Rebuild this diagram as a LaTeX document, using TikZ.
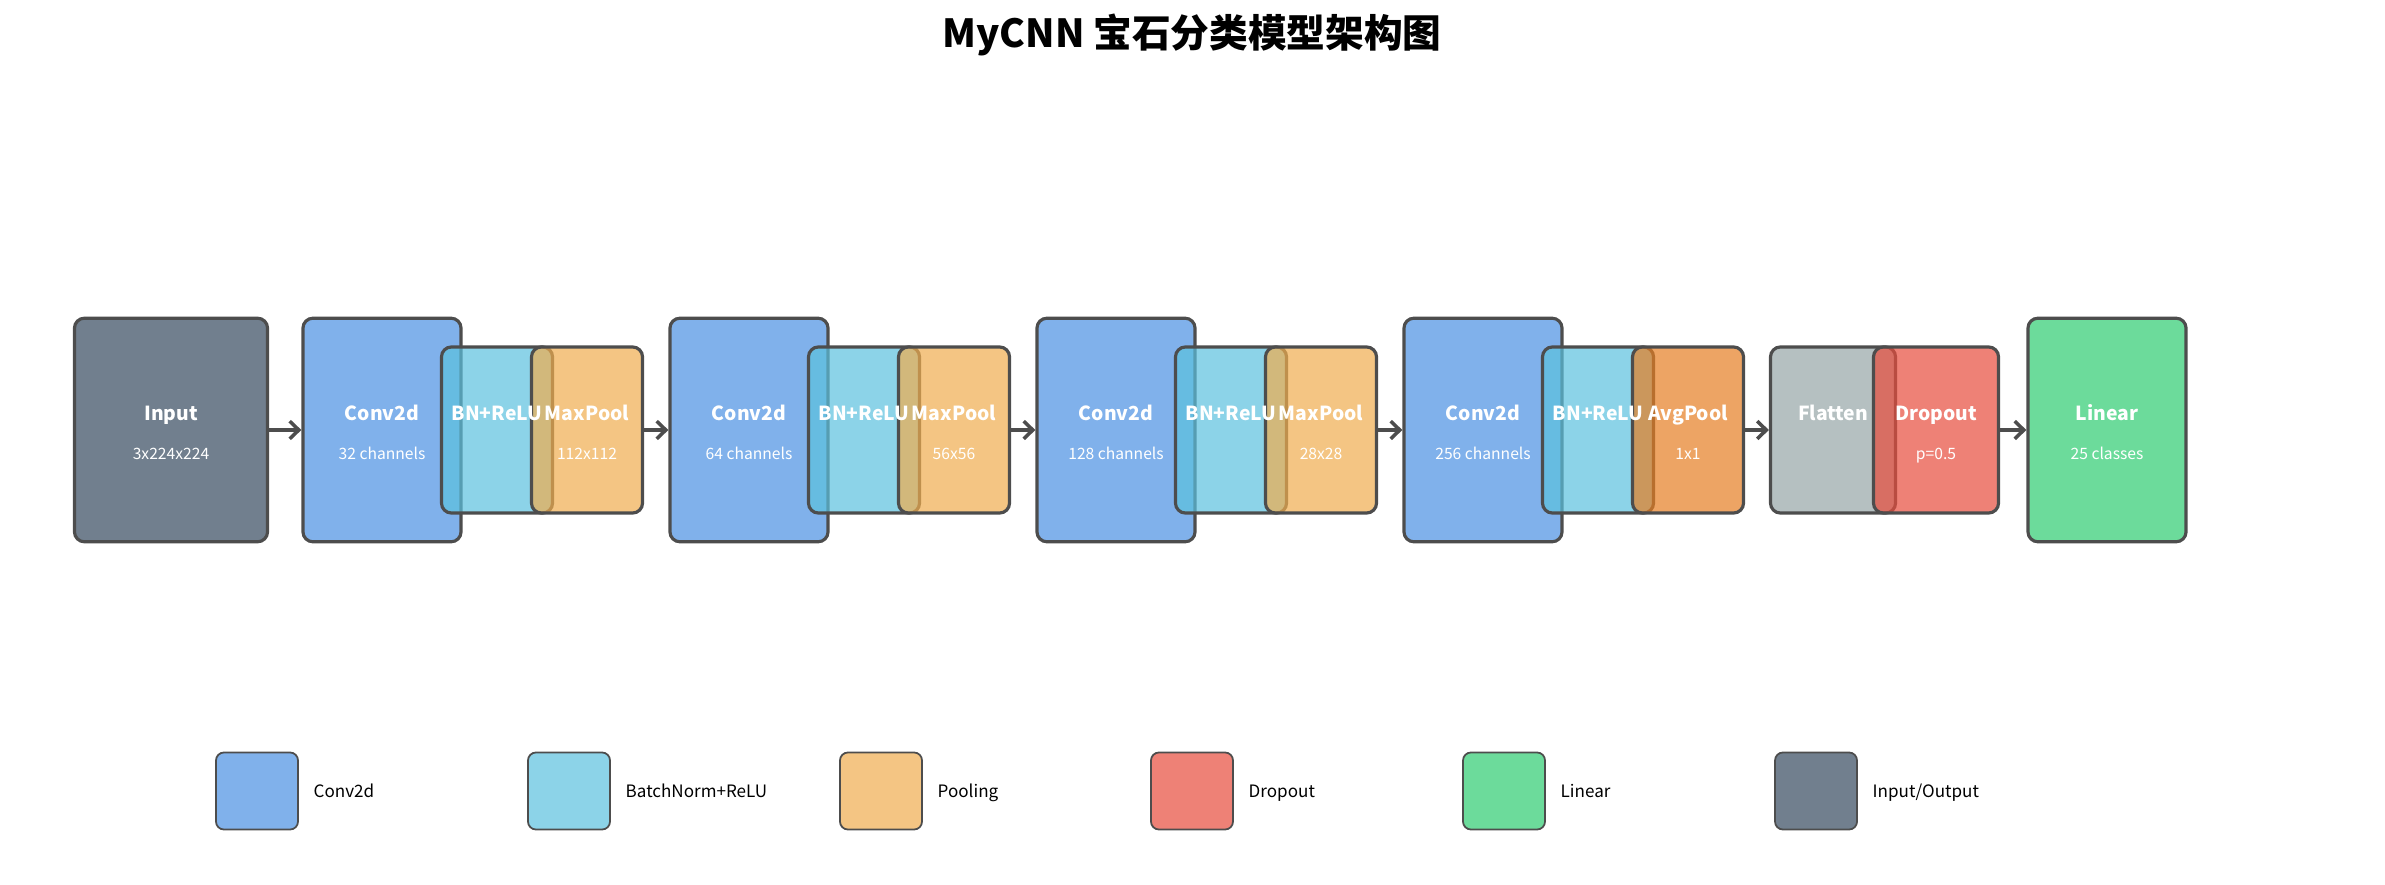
\documentclass[tikz,border=0pt]{standalone}
\usepackage{fontspec}
\setmainfont{Noto Sans CJK SC}
\usetikzlibrary{arrows.meta}

\definecolor{convc}{HTML}{4A90E2}
\definecolor{bnc}{HTML}{5BC0DE}
\definecolor{poolc}{HTML}{F0AD4E}
\definecolor{avgc}{HTML}{E67E22}
\definecolor{flatc}{HTML}{95A5A6}
\definecolor{dropc}{HTML}{E74C3C}
\definecolor{linc}{HTML}{2ECC71}
\definecolor{ioc}{HTML}{34495E}
\definecolor{edgec}{HTML}{4D4D4D}

\begin{document}
\begin{tikzpicture}[x=0.01cm,y=-0.01cm,
    bigbox/.style={minimum width=1.58cm, minimum height=2.235cm},
    smallbox/.style={minimum width=1.11cm, minimum height=1.66cm},
    lbl/.style={text=white, anchor=base, font=\fontsize{5.5}{6.5}\selectfont\bfseries, yshift=0.09cm},
    sublbl/.style={text=white, anchor=base, font=\fontsize{4.45}{5.5}\selectfont, yshift=-0.29cm},
    arr/.style={draw=edgec, line width=1pt, -{Straight Barb[length=2.6pt,width=5pt]}}]

        \useasboundingbox (0,0) rectangle (2385,885);

        \node (title) at (1192,35) {\fontsize{11}{13}\selectfont\bfseries MyCNN 宝石分类模型架构图};

        \begin{scope}[every node/.style={draw=edgec, line width=0.9pt, rounded corners=0.1cm, fill opacity=0.7, inner sep=0pt}]
          \node[bigbox, fill=ioc, minimum width=1.93cm] (in) at (171,430) {};
          \node[bigbox, fill=convc] (c1) at (382,430) {};
          \node[smallbox, fill=bnc] (b1) at (497,430) {};
          \node[smallbox, fill=poolc] (p1) at (587,430) {};
          \node[bigbox, fill=convc] (c2) at (749,430) {};
          \node[smallbox, fill=bnc] (b2) at (864,430) {};
          \node[smallbox, fill=poolc] (p2) at (954,430) {};
          \node[bigbox, fill=convc] (c3) at (1116,430) {};
          \node[smallbox, fill=bnc] (b3) at (1231,430) {};
          \node[smallbox, fill=poolc] (p3) at (1321,430) {};
          \node[bigbox, fill=convc] (c4) at (1483,430) {};
          \node[smallbox, fill=bnc] (b4) at (1598,430) {};
          \node[smallbox, fill=avgc] (p4) at (1688,430) {};
          \node[smallbox, fill=flatc, minimum width=1.25cm] (fl) at (1833,430) {};
          \node[smallbox, fill=dropc, minimum width=1.25cm] (dr) at (1936,430) {};
          \node[bigbox, fill=linc] (li) at (2107,430) {};
        \end{scope}

        % texts on top of the boxes
        \node[lbl] (int) at (in) {Input};
        \node[sublbl] (ins) at (in) {3x224x224};
        \node[lbl] (c1t) at (c1) {Conv2d};
        \node[sublbl] (c1s) at (c1) {32 channels};
        \node[lbl] (b1t) at (b1) {BN+ReLU};
        \node[lbl] (p1t) at (p1) {MaxPool};
        \node[sublbl] (p1s) at (p1) {112x112};
        \node[lbl] (c2t) at (c2) {Conv2d};
        \node[sublbl] (c2s) at (c2) {64 channels};
        \node[lbl] (b2t) at (b2) {BN+ReLU};
        \node[lbl] (p2t) at (p2) {MaxPool};
        \node[sublbl] (p2s) at (p2) {56x56};
        \node[lbl] (c3t) at (c3) {Conv2d};
        \node[sublbl] (c3s) at (c3) {128 channels};
        \node[lbl] (b3t) at (b3) {BN+ReLU};
        \node[lbl] (p3t) at (p3) {MaxPool};
        \node[sublbl] (p3s) at (p3) {28x28};
        \node[lbl] (c4t) at (c4) {Conv2d};
        \node[sublbl] (c4s) at (c4) {256 channels};
        \node[lbl] (b4t) at (b4) {BN+ReLU};
        \node[lbl] (p4t) at (p4) {AvgPool};
        \node[sublbl] (p4s) at (p4) {1x1};
        \node[lbl] (flt) at (fl) {Flatten};
        \node[lbl] (drt) at (dr) {Dropout};
        \node[sublbl] (drs) at (dr) {p=0.5};
        \node[lbl] (lit) at (li) {Linear};
        \node[sublbl] (lis) at (li) {25 classes};

        \draw[arr] (in.east) -- (c1.west);
        \draw[arr] (p1.east) -- (c2.west);
        \draw[arr] (p2.east) -- (c3.west);
        \draw[arr] (p3.east) -- (c4.west);
        \draw[arr] (p4.east) -- (fl.west);
        \draw[arr] (dr.east) -- (li.west);

        % legend
        \begin{scope}[every node/.style={draw=edgec, line width=0.5pt, rounded corners=0.08cm, fill opacity=0.7, inner sep=0pt, minimum width=0.82cm, minimum height=0.77cm}]
          \node[fill=convc] (k1) at (257,791) {};
          \node[fill=bnc] (k2) at (569,791) {};
          \node[fill=poolc] (k3) at (881,791) {};
          \node[fill=dropc] (k4) at (1192,791) {};
          \node[fill=linc] (k5) at (1504,791) {};
          \node[fill=ioc] (k6) at (1816,791) {};
        \end{scope}

        \begin{scope}[every node/.style={anchor=base west, inner sep=0pt, font=\fontsize{4.85}{6}\selectfont}]
          \node (k1t) at (313,797) {Conv2d};
          \node (k2t) at (625,797) {BatchNorm+ReLU};
          \node (k3t) at (937,797) {Pooling};
          \node (k4t) at (1248,797) {Dropout};
          \node (k5t) at (1560,797) {Linear};
          \node (k6t) at (1872,797) {Input/Output};
        \end{scope}

      \end{tikzpicture}
\end{document}
